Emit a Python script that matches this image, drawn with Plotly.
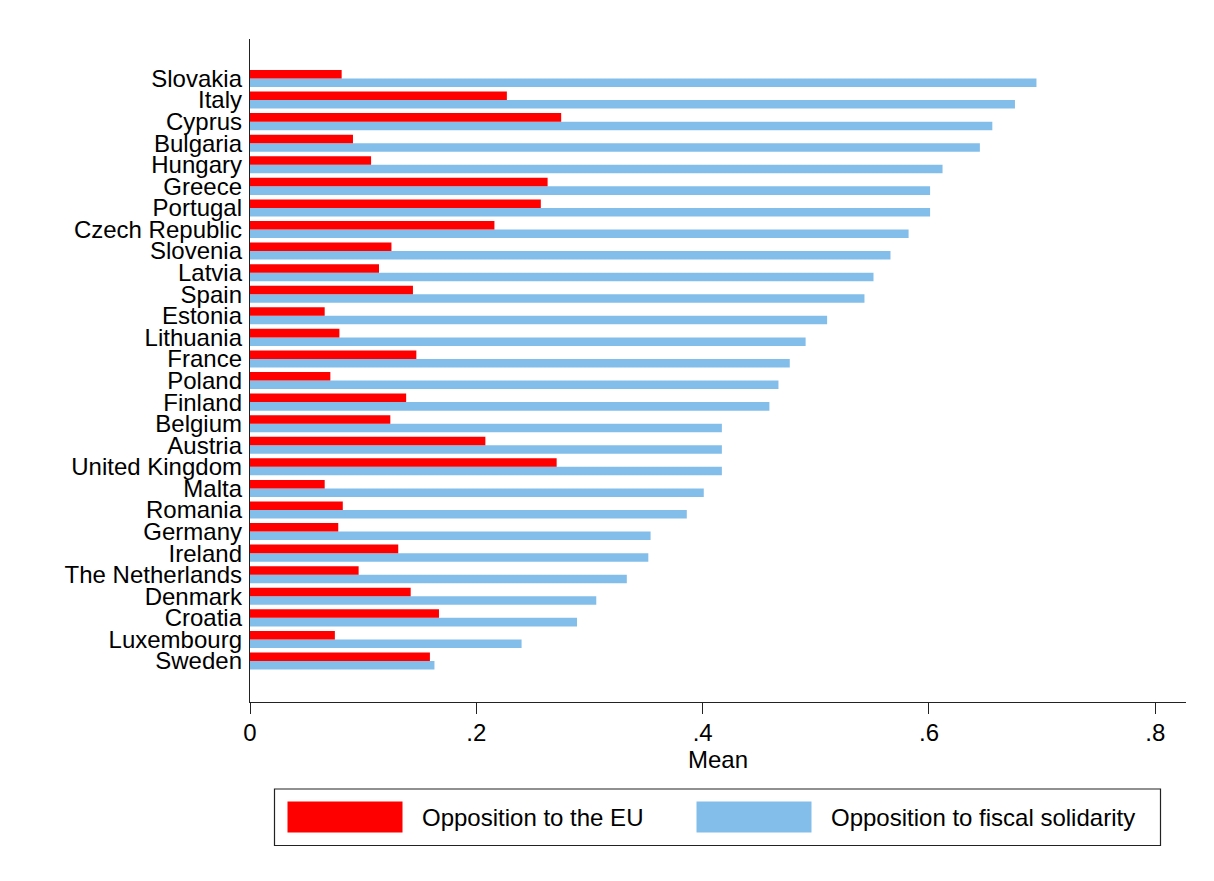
import plotly.graph_objects as go

countries = ["Slovakia", "Italy", "Cyprus", "Bulgaria", "Hungary", "Greece", "Portugal",
             "Czech Republic", "Slovenia", "Latvia", "Spain", "Estonia", "Lithuania", "France",
             "Poland", "Finland", "Belgium", "Austria", "United Kingdom", "Malta", "Romania",
             "Germany", "Ireland", "The Netherlands", "Denmark", "Croatia", "Luxembourg", "Sweden"]
opp_eu = [0.081, 0.227, 0.275, 0.091, 0.107, 0.263, 0.257, 0.216, 0.125, 0.114, 0.144, 0.066,
          0.079, 0.147, 0.071, 0.138, 0.124, 0.208, 0.271, 0.066, 0.082, 0.078, 0.131, 0.096,
          0.142, 0.167, 0.075, 0.159]
opp_fiscal = [0.695, 0.676, 0.656, 0.645, 0.612, 0.601, 0.601, 0.582, 0.566, 0.551, 0.543, 0.510,
              0.491, 0.477, 0.467, 0.459, 0.417, 0.417, 0.417, 0.401, 0.386, 0.354, 0.352, 0.333,
              0.306, 0.289, 0.240, 0.163]
x_ticks = [0, 0.2, 0.4, 0.6, 0.8]
x_ticklabels = ["0", ".2", ".4", ".6", ".8"]
series_names = ["Opposition to the EU", "Opposition to fiscal solidarity"]

RED = "#FF0000"
BLUE = "#83BEEA"
FONT = "Liberation Sans, Arial, sans-serif"

# page has an 8px body margin; target positions are in screenshot pixels
OFF = 8
W, H = 1214 - OFF, 881 - OFF
L, R, T, B = 250 - OFF, 28, 39 - OFF, 179
PW, PH = W - L - R, H - T - B

def px(x):
    return (x - OFF - L) / PW

def py(y):
    return (H - B - (y - OFF)) / PH

fig = go.Figure()
fig.add_trace(go.Bar(y=countries, x=opp_fiscal, orientation="h", name=series_names[1],
                     marker=dict(color=BLUE, line=dict(width=0)), showlegend=False))
fig.add_trace(go.Bar(y=countries, x=opp_eu, orientation="h", name=series_names[0],
                     marker=dict(color=RED, line=dict(width=0)), showlegend=False))

n = len(countries)
fig.update_layout(
    width=W, height=H,
    margin=dict(l=L, r=R, t=T, b=B, pad=0),
    paper_bgcolor="white", plot_bgcolor="white",
    barmode="group", bargap=0.21, bargroupgap=0,
    font=dict(family=FONT, color="black"),
    showlegend=False,
)
fig.update_xaxes(
    range=[0, PW / 1131.6], tickvals=x_ticks, ticktext=x_ticklabels,
    ticks="outside", ticklen=11, tickwidth=1.2, tickcolor="#222",
    showline=True, linecolor="#222", linewidth=1.4, showgrid=False, zeroline=False,
    tickfont=dict(size=24, family=FONT), ticklabelstandoff=-2,
    title=dict(text="Mean", font=dict(size=24, family=FONT), standoff=1),
)
fig.update_yaxes(
    categoryorder="array", categoryarray=countries[::-1],
    tickmode="array", tickvals=countries, ticktext=countries,
    range=[-1.90, n - 1 + 1.83],
    ticks="", showline=True, linecolor="#222", linewidth=1.4, showgrid=False, zeroline=False,
    tickfont=dict(size=24, family=FONT), ticklabelstandoff=2,
)

# legend box drawn manually (Stata style)
shapes = [
    dict(type="rect", xref="paper", yref="paper", x0=px(274.5), x1=px(1160.5), y0=py(845.5), y1=py(789),
         line=dict(color="#222", width=1.2), fillcolor="white", layer="above"),
    dict(type="rect", xref="paper", yref="paper", x0=px(287.5), x1=px(402.5), y0=py(832.5), y1=py(801.5),
         line=dict(width=0), fillcolor=RED),
    dict(type="rect", xref="paper", yref="paper", x0=px(696.5), x1=px(811.5), y0=py(832.5), y1=py(801.5),
         line=dict(width=0), fillcolor=BLUE),
]
annotations = [
    dict(xref="paper", yref="paper", x=px(420), y=py(817.5), text=series_names[0], showarrow=False,
         xanchor="left", yanchor="middle", font=dict(size=24, family=FONT, color="black")),
    dict(xref="paper", yref="paper", x=px(829), y=py(817.5), text=series_names[1], showarrow=False,
         xanchor="left", yanchor="middle", font=dict(size=24, family=FONT, color="black")),
]
fig.update_layout(shapes=shapes, annotations=annotations)

fig.write_html("out.html")
